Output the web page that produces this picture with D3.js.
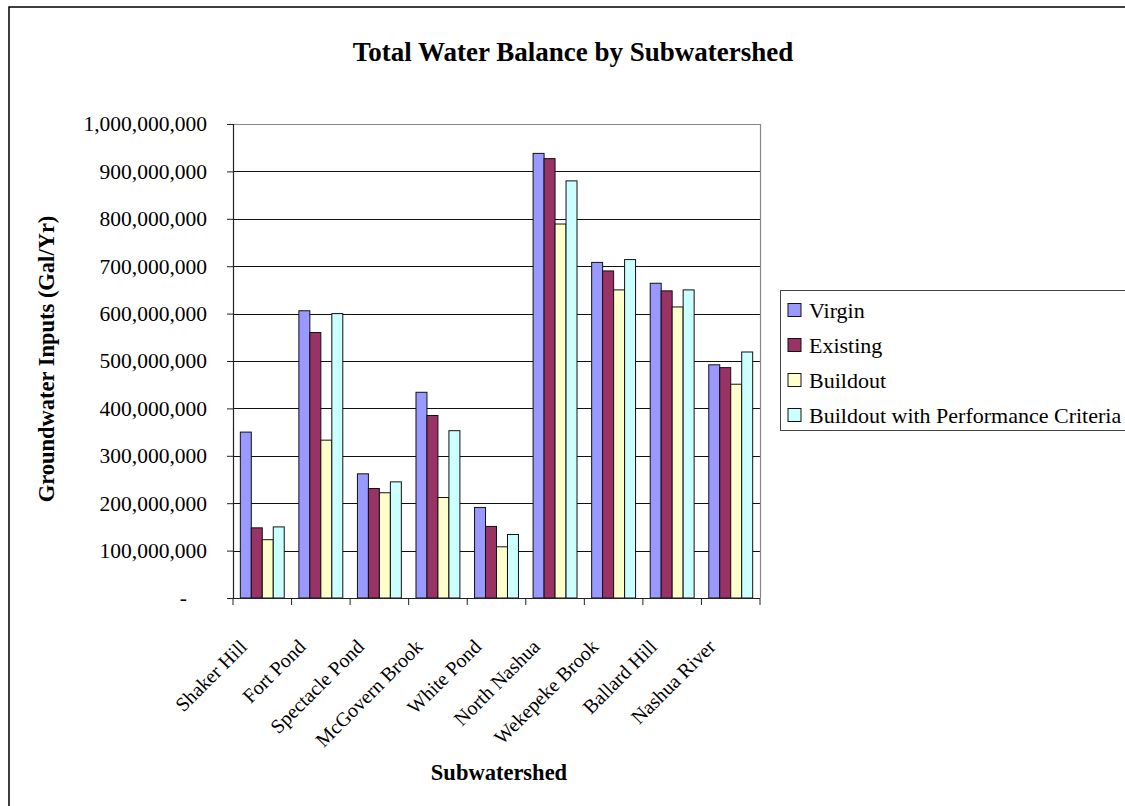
<!DOCTYPE html>
<html>
<head>
<meta charset="utf-8">
<script src="https://cdn.jsdelivr.net/npm/d3@7"></script>
<style>
  html, body { margin: 0; padding: 0; background: #fff; }
  svg { display: block; }
  text { font-family: "Liberation Serif", "Times New Roman", serif; fill: #000; }
</style>
</head>
<body>
<svg id="chart" width="1125" height="806"></svg>
<script>
const categories = ["Shaker Hill", "Fort Pond", "Spectacle Pond", "McGovern Brook", "White Pond",
                    "North Nashua", "Wekepeke Brook", "Ballard Hill", "Nashua River"];
const seriesNames = ["Virgin", "Existing", "Buildout", "Buildout with Performance Criteria"];
const virgin    = [350e6, 606e6, 262e6, 434e6, 191e6, 938e6, 708e6, 664e6, 492e6];
const existing  = [148e6, 560e6, 231e6, 385e6, 151e6, 927e6, 690e6, 648e6, 486e6];
const buildout  = [123e6, 333e6, 222e6, 212e6, 108e6, 789e6, 650e6, 614e6, 451e6];
const buildoutPC= [150e6, 600e6, 245e6, 353e6, 134e6, 880e6, 714e6, 650e6, 519e6];
const yTicks = [0, 1e8, 2e8, 3e8, 4e8, 5e8, 6e8, 7e8, 8e8, 9e8, 1e9];
const colors = ["#9999FF", "#993366", "#FFFFCC", "#CCFFFF"];

(function () {
const seriesValues = [virgin, existing, buildout, buildoutPC];
const svg = d3.select("#chart");

// outer frame
svg.append("rect").attr("x", 9).attr("y", 7).attr("width", 1130).attr("height", 820)
  .attr("fill", "none").attr("stroke", "#000").attr("stroke-width", 1.5);

const pL = 233, pR = 760, pT = 124, pB = 598;

const x0 = d3.scaleBand().domain(categories).range([pL, pR]).padding(0);
const step = x0.bandwidth();
const gap = step * 0.25;
const x1 = d3.scaleBand().domain(seriesNames).range([gap / 2, step - gap / 2]).padding(0);
const y = d3.scaleLinear().domain([0, 1e9]).range([pB, pT]);

// gridlines
svg.append("g").selectAll("line").data(yTicks.filter(d => d > 0)).join("line")
  .attr("x1", pL).attr("x2", pR)
  .attr("y1", d => Math.round(y(d)) + 0.5).attr("y2", d => Math.round(y(d)) + 0.5)
  .attr("stroke", "#111").attr("stroke-width", 1);

// plot border top/right
svg.append("path")
  .attr("d", `M${pL},${pT + 0.5}H${pR + 0.5}V${pB}`)
  .attr("fill", "none").attr("stroke", "#888").attr("stroke-width", 1.2);

// bars
const data = [];
categories.forEach((c, i) => seriesNames.forEach((s, j) => data.push({c, s, j, v: seriesValues[j][i]})));
svg.append("g").selectAll("rect").data(data).join("rect")
  .attr("x", d => x0(d.c) + x1(d.s))
  .attr("y", d => y(d.v))
  .attr("width", x1.bandwidth())
  .attr("height", d => y(0) - y(d.v))
  .attr("fill", d => colors[d.j])
  .attr("stroke", "#111").attr("stroke-width", 1);

// y axis
const yAxis = d3.axisLeft(y).tickValues(yTicks).tickSize(6).tickPadding(20)
  .tickFormat(d => d === 0 ? "-" : d3.format(",")(d));
const gy = svg.append("g").attr("transform", `translate(${pL},0)`).call(yAxis);
gy.select(".domain").attr("stroke", "#222").attr("stroke-width", 1.2);
gy.selectAll(".tick line").attr("stroke", "#222");
gy.selectAll(".tick text").attr("font-family", "Liberation Serif").attr("font-size", 21.5)
  .attr("fill", "#000")
  .attr("dx", d => d === 0 ? -20 : 0);

// x axis
const boundaries = categories.map(c => x0(c)).concat([pR]);
const gx = svg.append("g");
gx.append("line").attr("x1", pL).attr("x2", pR).attr("y1", pB + 0.5).attr("y2", pB + 0.5)
  .attr("stroke", "#222").attr("stroke-width", 1.2);
gx.selectAll("line.t").data(boundaries).join("line").attr("class", "t")
  .attr("x1", d => d).attr("x2", d => d).attr("y1", pB).attr("y2", pB + 7)
  .attr("stroke", "#222");
gx.selectAll("text").data(categories).join("text")
  .attr("transform", d => `translate(${x0(d) + step / 2 - 14},${pB + 50}) rotate(-45)`)
  .attr("text-anchor", "end")
  .attr("font-size", 20)
  .text(d => d);

// titles
svg.append("text").attr("x", 573).attr("y", 52).attr("text-anchor", "middle")
  .attr("dominant-baseline", "central").attr("font-weight", "bold").attr("font-size", 27)
  .text("Total Water Balance by Subwatershed");
svg.append("text").attr("transform", "translate(46,359) rotate(-90)").attr("text-anchor", "middle")
  .attr("dominant-baseline", "central").attr("font-weight", "bold").attr("font-size", 22.5)
  .text("Groundwater Inputs (Gal/Yr)");
svg.append("text").attr("x", 499).attr("y", 772).attr("text-anchor", "middle")
  .attr("dominant-baseline", "central").attr("font-weight", "bold").attr("font-size", 22.5)
  .text("Subwatershed");

// legend
const lg = svg.append("g");
lg.append("rect").attr("x", 780.5).attr("y", 290.5).attr("width", 400).attr("height", 140)
  .attr("fill", "#fff").attr("stroke", "#444").attr("stroke-width", 1);
const items = lg.selectAll("g.item").data(seriesNames).join("g").attr("class", "item")
  .attr("transform", (d, i) => `translate(0,${310 + i * 35})`);
items.append("rect").attr("x", 788).attr("y", -6.5).attr("width", 13).attr("height", 13)
  .attr("fill", (d, i) => colors[i]).attr("stroke", "#111");
items.append("text").attr("x", 809).attr("y", 0).attr("dominant-baseline", "central")
  .attr("font-size", 22).text(d => d);
})();
</script>
</body>
</html>
